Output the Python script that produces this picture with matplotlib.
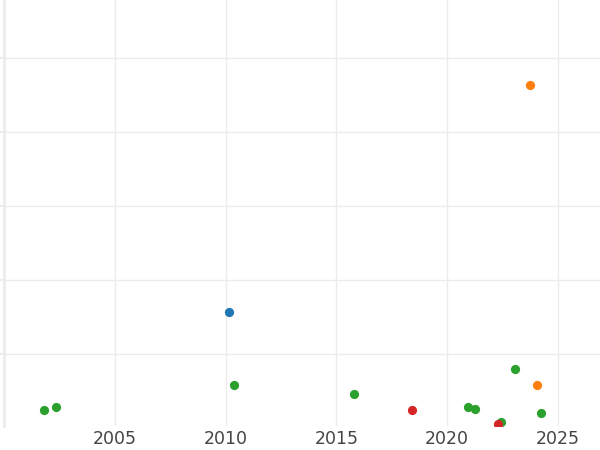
import matplotlib
matplotlib.use("Agg")
import matplotlib.pyplot as plt

# punkte nach farbe gruppiert (jahr, wert)
blue_x = [2010.14]
blue_y = [1.57]

orange_x = [2023.74, 2024.07]
orange_y = [4.63, 0.58]

green_x = [2001.79, 2002.34, 2010.39, 2015.81, 2020.92, 2021.24, 2022.43, 2023.07, 2024.25]
green_y = [0.24, 0.28, 0.58, 0.46, 0.28, 0.26, 0.08, 0.80, 0.20]

red_x = [2018.41, 2022.30]
red_y = [0.24, 0.06]

x_ticks = [2005, 2010, 2015, 2020, 2025]
y_ticks = [1, 2, 3, 4, 5]

fig = plt.figure(figsize=(6, 4.5), dpi=100)
ax = fig.add_axes([4 / 600, 24 / 450, 596 / 600, 426 / 450])

grid_col = "#ececec"
for xs, ys, c in [(blue_x, blue_y, "#1f77b4"), (green_x, green_y, "#2ca02c"),
                  (orange_x, orange_y, "#ff7f0e"), (red_x, red_y, "#d62728")]:
    ax.scatter(xs, ys, s=44, color=c, zorder=3, linewidths=0)

ax.set_xlim(2000, 2026.9)
ax.set_ylim(0.027, 5.784)
ax.set_xticks(x_ticks)
ax.set_xticklabels([str(t) for t in x_ticks])
ax.set_yticks(y_ticks)
ax.set_yticklabels([])

ax.grid(True, color=grid_col, linewidth=1.0, zorder=0)
ax.set_axisbelow(True)
for s in ["top", "right", "bottom"]:
    ax.spines[s].set_visible(False)
ax.spines["left"].set_color(grid_col)
ax.spines["left"].set_linewidth(2)

ax.tick_params(axis="x", length=0, pad=3, labelsize=12.5, labelcolor="#444444")
ax.tick_params(axis="y", length=3, width=1.5, color=grid_col)

fig.savefig("out.png", dpi=100)
